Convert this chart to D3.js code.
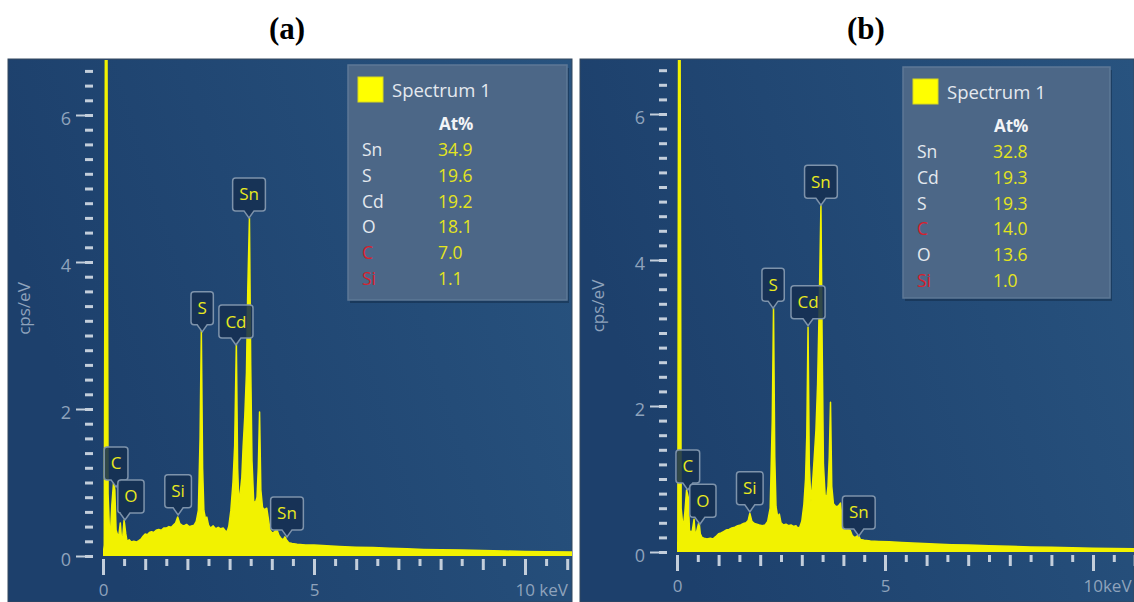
<!DOCTYPE html>
<html>
<head>
<meta charset="utf-8">
<script src="https://cdn.jsdelivr.net/npm/d3@7"></script>
<style>
  body { margin: 0; background: #fff; }
  svg { display: block; }
</style>
</head>
<body>
<svg id="chart" width="1134" height="602"></svg>
<script>
// spectra: [keV, cps/eV]
const spectrumA = [
  [0.00,0.00],[0.03,0.15],[0.06,8],[0.09,8],[0.12,0.85],[0.15,0.4],[0.18,0.35],[0.21,0.7],[0.25,1.0],[0.28,0.9],
  [0.31,0.35],[0.35,0.28],[0.38,0.3],[0.41,0.45],[0.44,0.22],[0.47,0.28],[0.50,0.49],[0.54,0.3],[0.57,0.2],[0.62,0.22],
  [0.67,0.19],[0.73,0.2],[0.79,0.19],[0.85,0.21],[0.90,0.23],[0.95,0.27],[1.00,0.3],[1.05,0.29],[1.10,0.32],[1.15,0.33],
  [1.20,0.32],[1.26,0.35],[1.32,0.36],[1.38,0.35],[1.44,0.38],[1.50,0.38],[1.56,0.40],[1.62,0.39],[1.67,0.42],[1.72,0.45],
  [1.77,0.53],[1.82,0.44],[1.87,0.42],[1.92,0.41],[1.98,0.43],[2.04,0.40],[2.10,0.41],[2.16,0.42],[2.21,0.47],[2.26,0.62],
  [2.30,1.6],[2.33,3.07],[2.36,1.2],[2.39,0.62],[2.43,0.5],[2.46,0.53],[2.50,0.42],[2.55,0.38],[2.61,0.41],[2.67,0.37],
  [2.73,0.39],[2.79,0.37],[2.85,0.38],[2.90,0.34],[2.94,0.33],[2.98,0.4],[3.03,0.62],[3.08,1.0],[3.12,1.5],[3.16,2.9],
  [3.19,1.2],[3.22,0.72],[3.26,0.9],[3.29,1.07],[3.32,1.48],[3.36,1.9],[3.40,2.5],[3.43,3.6],[3.47,4.6],[3.50,2.6],
  [3.53,1.3],[3.57,0.75],[3.61,0.72],[3.65,0.8],[3.68,1.2],[3.71,1.96],[3.74,0.9],[3.78,0.66],[3.83,0.63],[3.88,0.65],
  [3.92,0.5],[3.96,0.35],[4.01,0.31],[4.06,0.33],[4.12,0.36],[4.17,0.28],[4.22,0.24],[4.27,0.22],[4.31,0.26],[4.35,0.22],
  [4.40,0.18],[4.48,0.17],[4.60,0.16],[4.80,0.15],[5.00,0.15],[5.30,0.14],[5.60,0.13],[6.00,0.12],[6.40,0.115],[6.80,0.105],
  [7.20,0.1],[7.60,0.09],[8.00,0.085],[8.50,0.08],[9.00,0.075],[9.50,0.068],[10.00,0.062],[10.50,0.058],[11.20,0.055]
];

const spectrumB = [
  [0.00,0.00],[0.02,0.15],[0.04,8],[0.07,8],[0.10,0.6],[0.13,0.42],[0.16,0.38],[0.19,0.55],[0.23,0.85],[0.27,0.75],
  [0.30,0.3],[0.34,0.26],[0.37,0.3],[0.41,0.45],[0.44,0.22],[0.48,0.3],[0.53,0.42],[0.56,0.25],[0.60,0.2],[0.65,0.19],
  [0.72,0.18],[0.80,0.19],[0.87,0.18],[0.93,0.21],[1.00,0.25],[1.06,0.26],[1.12,0.28],[1.18,0.3],[1.25,0.31],[1.32,0.33],
  [1.39,0.34],[1.46,0.36],[1.53,0.37],[1.60,0.39],[1.66,0.40],[1.71,0.43],[1.75,0.53],[1.80,0.42],[1.86,0.39],[1.92,0.38],
  [1.98,0.37],[2.05,0.36],[2.12,0.37],[2.18,0.42],[2.24,0.6],[2.29,1.8],[2.32,3.34],[2.35,1.3],[2.38,0.62],[2.42,0.48],
  [2.46,0.52],[2.50,0.4],[2.56,0.37],[2.62,0.38],[2.68,0.36],[2.74,0.37],[2.80,0.35],[2.86,0.36],[2.90,0.33],[2.95,0.34],
  [3.00,0.42],[3.05,0.65],[3.09,1.0],[3.12,1.6],[3.15,3.08],[3.18,1.2],[3.22,0.68],[3.26,0.95],[3.30,1.3],[3.34,1.67],
  [3.38,2.3],[3.42,3.4],[3.46,4.75],[3.49,2.8],[3.52,1.2],[3.56,0.78],[3.60,0.75],[3.63,0.9],[3.66,1.3],[3.69,2.05],
  [3.72,0.9],[3.76,0.66],[3.82,0.62],[3.88,0.63],[3.93,0.67],[3.97,0.45],[4.01,0.33],[4.06,0.3],[4.11,0.31],[4.16,0.3],
  [4.21,0.23],[4.26,0.2],[4.31,0.21],[4.36,0.23],[4.41,0.17],[4.50,0.16],[4.65,0.15],[4.85,0.145],[5.10,0.14],[5.40,0.13],
  [5.80,0.12],[6.20,0.11],[6.60,0.1],[7.00,0.095],[7.50,0.085],[8.00,0.078],[8.50,0.07],[9.00,0.065],[9.50,0.058],[10.00,0.052],
  [10.50,0.048],[11.10,0.045]
];

// peak markers: [element, keV, cps/eV at the tip]
const peaksA = [['Sn',3.46,4.6],['S',2.35,3.05],['Cd',3.15,2.87],['C',0.31,0.94],['O',0.52,0.49],['Si',1.78,0.56],['Sn',4.36,0.26]];
const peaksB = [['Sn',3.46,4.75],['S',2.31,3.34],['Cd',3.15,3.1],['C',0.26,0.85],['O',0.55,0.38],['Si',1.75,0.55],['Sn',4.37,0.22]];

// quantification tables
const elementsA = ['Sn','S','Cd','O','C','Si'];
const atPctA = ['34.9','19.6','19.2','18.1','7.0','1.1'];
const elementsB = ['Sn','Cd','S','C','O','Si'];
const atPctB = ['32.8','19.3','19.3','14.0','13.6','1.0'];
const redElements = ['C','Si'];

const yLabelTicks = [0, 2, 4, 6];
const xLabelTicks = [0, 5, 10];

const panels = [
  { title: '(a)', titleX: 287, box: [8, 59, 572, 602], x0: 103, x10: 525, y0: 556, y6: 115, unit: ' keV',
    legend: [348, 65, 219, 235], spectrum: spectrumA, peaks: peaksA, elements: elementsA, atPct: atPctA, oShift: 6 },
  { title: '(b)', titleX: 866, box: [580, 59, 1134, 602], x0: 677, x10: 1093, y0: 552, y6: 114, unit: 'keV',
    legend: [903, 67, 207, 231], spectrum: spectrumB, peaks: peaksB, elements: elementsB, atPct: atPctB, oShift: 3 }
];

const FONT = '"Open Sans", "Noto Sans", sans-serif';
const svg = d3.select('#chart');
const defs = svg.append('defs');

const grad = defs.append('linearGradient').attr('id', 'bg').attr('x1', 0).attr('x2', 1).attr('y1', 0.3).attr('y2', 0);
grad.append('stop').attr('offset', '0%').attr('stop-color', '#1d406c');
grad.append('stop').attr('offset', '100%').attr('stop-color', '#28537f');

panels.forEach((p, i) => {
  const [bx0, by0, bx1, by1] = p.box;
  const g = svg.append('g');

  svg.append('text')
    .attr('x', p.titleX).attr('y', 39)
    .attr('text-anchor', 'middle')
    .style('font-family', '"Liberation Serif", "Times New Roman", serif')
    .style('font-weight', 'bold').style('font-size', '31px')
    .text(p.title);

  g.append('rect')
    .attr('x', bx0).attr('y', by0).attr('width', bx1 - bx0).attr('height', by1 - by0)
    .attr('fill', 'url(#bg)').attr('stroke', '#34485e').attr('stroke-width', 1);

  const x = d3.scaleLinear().domain([0, 10]).range([p.x0, p.x10]);
  const y = d3.scaleLinear().domain([0, 6]).range([p.y0, p.y6]);

  // y ticks
  const yMinor = d3.range(0, 6.65, 0.2);
  const yAxisMinor = g.append('g').attr('transform', `translate(${p.x0 - 10},0)`)
    .call(d3.axisLeft(y).tickValues(yMinor).tickSize(8).tickFormat(''));
  const yAxisMajor = g.append('g').attr('transform', `translate(${p.x0 - 10},0)`)
    .call(d3.axisLeft(y).tickValues(yLabelTicks).tickSize(17).tickPadding(5).tickFormat(d3.format('d')));
  yAxisMinor.selectAll('line').attr('stroke', '#c3cedb').attr('stroke-width', 3);
  yAxisMajor.selectAll('line').attr('stroke', '#c3cedb').attr('stroke-width', 2);
  yAxisMajor.selectAll('text').attr('fill', '#8fa3bc').attr('dy', '0.5em')
    .style('font-family', FONT).style('font-size', '18px');
  g.selectAll('.domain').remove();

  // x ticks
  const xHalf = d3.range(0.5, 11.1, 1);
  const xInt = d3.range(1, 11.1, 1).filter(d => d % 5 !== 0);
  const xAxisG = g.append('g').attr('transform', `translate(0,${p.y0 + 3})`);
  xAxisG.append('g').call(d3.axisBottom(x).tickValues(xHalf).tickSize(7).tickFormat(''));
  xAxisG.append('g').call(d3.axisBottom(x).tickValues(xInt).tickSize(11).tickFormat(''));
  const xMajor = xAxisG.append('g')
    .call(d3.axisBottom(x).tickValues(xLabelTicks).tickSize(16).tickPadding(9)
      .tickFormat(d => d === 10 ? '10' + p.unit : d));
  xAxisG.selectAll('line').attr('stroke', '#c3cedb').attr('stroke-width', 3);
  xAxisG.selectAll('.domain').remove();
  xMajor.selectAll('text').attr('fill', '#8fa3bc')
    .style('font-family', FONT).style('font-size', '17px')
    .filter(d => d === 10).attr('text-anchor', 'start').attr('x', -10);

  g.append('text')
    .attr('transform', `translate(${p.x0 - 73},${(p.y0 + p.y6) / 2 - 27}) rotate(-90)`)
    .attr('text-anchor', 'middle')
    .attr('fill', '#8fa3bc')
    .style('font-family', FONT).style('font-size', '17px')
    .text('cps/eV');

  // spectrum
  defs.append('clipPath').attr('id', `clip${i}`)
    .append('rect').attr('x', p.x0).attr('y', by0 + 1).attr('width', bx1 - p.x0).attr('height', p.y0 - by0 - 1);

  const area = d3.area().x(d => x(d[0])).y0(y(0)).y1(d => y(d[1]));
  g.append('path')
    .datum(p.spectrum)
    .attr('clip-path', `url(#clip${i})`)
    .attr('fill', '#f2f200')
    .attr('stroke', '#f2f200')
    .attr('stroke-width', 1.5)
    .attr('stroke-linejoin', 'round')
    .attr('d', area);

  // peak labels
  const labelG = g.append('g');
  p.peaks.forEach(([el, keV, val]) => {
    const tx = x(keV), ty = y(val);
    const t = labelG.append('text')
      .attr('fill', '#e9e91e')
      .attr('text-anchor', 'middle')
      .style('font-family', FONT).style('font-size', '17px')
      .text(el);
    const w = t.node().getComputedTextLength() + 13;
    const h = 33;
    const cx = tx + (el === 'O' ? p.oShift : 0);
    const x0 = cx - w / 2, x1 = cx + w / 2, yb = ty - 7, yt = yb - h, r = 3;
    const path = `M${x0 + r},${yt} H${x1 - r} Q${x1},${yt} ${x1},${yt + r} V${yb - r} Q${x1},${yb} ${x1 - r},${yb}
      H${tx + 5} L${tx},${ty} L${tx - 5},${yb} H${x0 + r} Q${x0},${yb} ${x0},${yb - r} V${yt + r} Q${x0},${yt} ${x0 + r},${yt} Z`;
    labelG.insert('path', 'text')
      .attr('d', path)
      .attr('fill', 'rgba(22,48,82,0.88)')
      .attr('stroke', '#7e93ab')
      .attr('stroke-width', 1.5);
    t.attr('x', cx).attr('y', yt + h / 2 + 6);
  });

  // quantification legend
  const [lx, ly, lw, lh] = p.legend;
  const lg = g.append('g').attr('transform', `translate(${lx},${ly})`);
  lg.append('rect').attr('x', 2).attr('y', 3).attr('width', lw).attr('height', lh).attr('fill', 'rgba(10,25,45,0.35)');
  lg.append('rect').attr('width', lw).attr('height', lh)
    .attr('fill', '#4c6787').attr('stroke', '#5d7896').attr('stroke-width', 1.5);
  lg.append('rect').attr('x', 10).attr('y', 12).attr('width', 25).attr('height', 25)
    .attr('fill', '#ffff00').attr('stroke', '#d8d820').attr('stroke-width', 1);
  lg.append('text').attr('x', 44).attr('y', 32)
    .attr('fill', '#e4e9ef').style('font-family', FONT).style('font-size', '18.5px')
    .text('Spectrum 1');
  lg.append('text').attr('x', 91).attr('y', 65)
    .attr('fill', '#f2f4f7').style('font-family', FONT).style('font-size', '17px').style('font-weight', 'bold')
    .text('At%');

  const rows = lg.selectAll('g.row').data(d3.zip(p.elements, p.atPct)).join('g')
    .attr('class', 'row')
    .attr('transform', (d, k) => `translate(0,${91 + k * 25.8})`);
  rows.append('text').attr('x', 14)
    .attr('fill', d => redElements.includes(d[0]) ? '#d8202c' : '#e4e9ef')
    .style('font-family', FONT).style('font-size', '17.5px')
    .text(d => d[0]);
  rows.append('text').attr('x', 90)
    .attr('fill', '#e4e41e')
    .style('font-family', FONT).style('font-size', '17.5px')
    .text(d => d[1]);
});
</script>
</body>
</html>
